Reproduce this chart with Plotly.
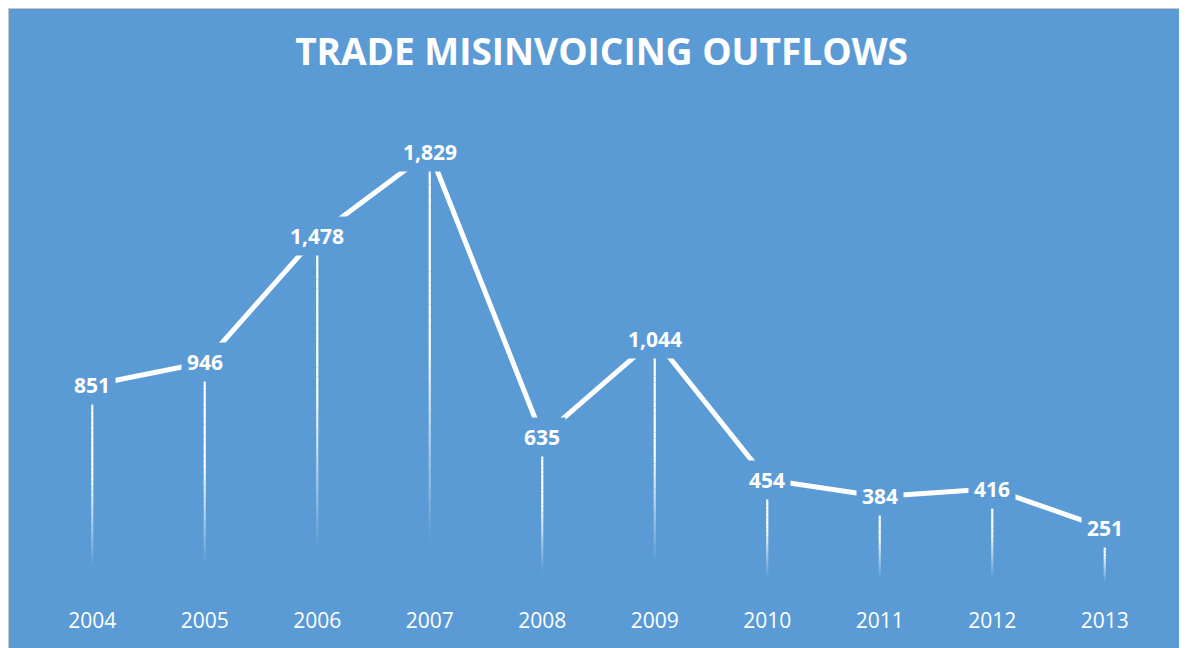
import plotly.graph_objects as go
import numpy as np

years = ["2004", "2005", "2006", "2007", "2008", "2009", "2010", "2011", "2012", "2013"]
outflows = [851, 946, 1478, 1829, 635, 1044, 454, 384, 416, 251]
title_text = "TRADE MISINVOICING OUTFLOWS"

BG = "#5B9BD5"
FONT = "Open Sans"

xs = list(range(len(years)))

fig = go.Figure()

# Drop lines with fading gradient (built from data values)
N = 40
for k in range(N):
    f0, f1 = k / N, (k + 1) / N
    fmid = (f0 + f1) / 2
    alpha = float(np.clip(1 - (fmid - 0.45) / 0.45, 0, 1))
    if alpha <= 0:
        continue
    sx, sy = [], []
    for x, v in zip(xs, outflows):
        sx += [x, x, None]
        sy += [v * (1 - f0), v * (1 - f1), None]
    fig.add_trace(go.Scatter(
        x=sx, y=sy, mode="lines",
        line=dict(color=f"rgba(255,255,255,{alpha:.3f})", width=2.2),
        hoverinfo="skip", showlegend=False,
    ))

# Main line
fig.add_trace(go.Scatter(
    x=xs, y=outflows, mode="lines",
    line=dict(color="white", width=5),
    showlegend=False, hoverinfo="skip",
))

for x, v in zip(xs, outflows):
    fig.add_annotation(
        x=x, y=v, text=f"{v:,}", showarrow=False,
        font=dict(family=FONT, size=21, color="white", weight="bold"),
        bgcolor=BG, borderpad=5,
        xanchor="center", yanchor="middle",
    )

L, R, T, B = 28, 34, 103, 68
W, H = 1187, 648
pw, ph = W - L - R, H - T - B

# thin grey frame line along the top and left edges of the chart area
fig.add_shape(type="line", xref="paper", yref="paper",
              x0=-L / pw, x1=1 + R / pw, y0=1 + T / ph, y1=1 + T / ph,
              line=dict(color="#C8C8C8", width=2))
fig.add_shape(type="line", xref="paper", yref="paper",
              x0=-L / pw, x1=-L / pw, y0=-B / ph, y1=1 + T / ph,
              line=dict(color="#C8C8C8", width=2))

fig.update_layout(
    width=W, height=H,
    paper_bgcolor=BG, plot_bgcolor=BG,
    margin=dict(l=L, r=R, t=T, b=B),
    title=dict(
        text=f"<b>{title_text}</b>",
        font=dict(family=FONT, size=37, color="white"),
        x=0.5, xanchor="center", xref="container",
        y=1 - 44 / 648, yanchor="middle", yref="container",
    ),
    xaxis=dict(
        range=[-0.5, len(years) - 0.5],
        tickvals=xs, ticktext=years,
        showgrid=False, zeroline=False, showline=False, ticks="",
        tickfont=dict(family=FONT, size=21, color="white"),
        ticklabelstandoff=18,
    ),
    yaxis=dict(
        range=[0, 2000], visible=False, showgrid=False, zeroline=False,
    ),
)

fig.write_html(
    "out.html",
    post_script="document.documentElement.style.overflow='hidden';document.body.style.overflow='hidden';",
)
